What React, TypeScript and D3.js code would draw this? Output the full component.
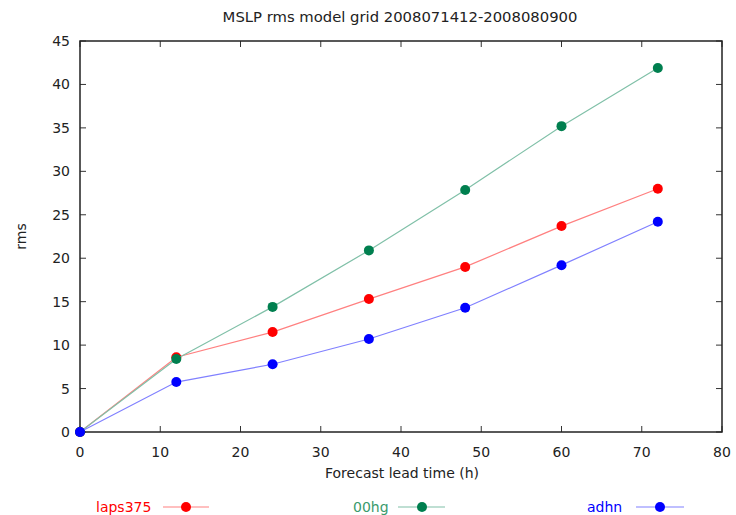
import React from "react";
import * as d3 from "d3";

const leadTimes = [0, 12, 24, 36, 48, 60, 72];
const laps375 = [0, 8.6, 11.5, 15.3, 19.0, 23.7, 28.0];
const hg00 = [0, 8.4, 14.4, 20.9, 27.85, 35.2, 41.9];
const adhn = [0, 5.75, 7.8, 10.7, 14.3, 19.2, 24.2];
const xTicks = [0, 10, 20, 30, 40, 50, 60, 70, 80];
const yTicks = [0, 5, 10, 15, 20, 25, 30, 35, 40, 45];

const seriesList = [
  { name: "laps375", values: laps375, marker: "#ff0000", line: "#ff8080", text: "#ff0000", lx: 96 },
  { name: "00hg", values: hg00, marker: "#007f4f", line: "#80c0a8", text: "#3a9a6c", lx: 353 },
  { name: "adhn", values: adhn, marker: "#0000ff", line: "#8080ff", text: "#0000ff", lx: 587 },
];

export default function App() {
  const W = 736, H = 515;
  const left = 80, right = 722, top = 41, bottom = 432;
  const x = d3.scaleLinear().domain([0, 80]).range([left, right]);
  const y = d3.scaleLinear().domain([0, 45]).range([bottom, top]);
  const font = "DejaVu Sans, sans-serif";
  const line = (vals: number[]) =>
    d3.line<number>().x((_, i) => x(leadTimes[i])).y((d) => y(d))(vals) || "";
  const tl = 6;
  const fs = 14;
  return (
    <svg width={W} height={H} style={{ position: "absolute", left: 0, top: 0, background: "#fff" }} fontFamily={font}>
      <rect x={0} y={0} width={W} height={H} fill="#fff" />
      <text x={400} y={22} textAnchor="middle" fontSize={14.8} fill="#222">MSLP rms model grid 2008071412-2008080900</text>
      {xTicks.map((t) => (
        <g key={"x" + t}>
          <line x1={x(t)} x2={x(t)} y1={bottom} y2={bottom - tl} stroke="#333" />
          <line x1={x(t)} x2={x(t)} y1={top} y2={top + tl} stroke="#333" />
          <text x={x(t)} y={457} textAnchor="middle" fontSize={fs} fill="#222">{t}</text>
        </g>
      ))}
      {yTicks.map((t) => (
        <g key={"y" + t}>
          <line x1={left} x2={left + tl} y1={y(t)} y2={y(t)} stroke="#333" />
          <line x1={right} x2={right - tl} y1={y(t)} y2={y(t)} stroke="#333" />
          <text x={70} y={y(t) + 5} textAnchor="end" fontSize={fs} fill="#222">{t}</text>
        </g>
      ))}
      <rect x={left} y={top} width={right - left} height={bottom - top} fill="none" stroke="#222" strokeWidth={1.5} />
      <text x={402} y={478} textAnchor="middle" fontSize={fs} fill="#222">Forecast lead time (h)</text>
      <text transform={`translate(26,${(top + bottom) / 2}) rotate(-90)`} textAnchor="middle" fontSize={fs} fill="#222">rms</text>
      {seriesList.map((s) => (
        <g key={s.name}>
          <path d={line(s.values)} fill="none" stroke={s.line} strokeWidth={1.2} />
          {s.values.map((v, i) => (
            <circle key={i} cx={x(leadTimes[i])} cy={y(v)} r={5} fill={s.marker} />
          ))}
        </g>
      ))}
      {seriesList.map((s) => (
        <g key={"leg" + s.name}>
          <text x={s.lx} y={512} fontSize={fs} fill={s.text}>{s.name}</text>
        </g>
      ))}
      <line x1={163} x2={209} y1={507} y2={507} stroke={seriesList[0].line} strokeWidth={1.2} />
      <circle cx={186} cy={507} r={5} fill={seriesList[0].marker} />
      <line x1={398} x2={445} y1={507} y2={507} stroke={seriesList[1].line} strokeWidth={1.2} />
      <circle cx={422} cy={507} r={5} fill={seriesList[1].marker} />
      <line x1={636} x2={684} y1={507} y2={507} stroke={seriesList[2].line} strokeWidth={1.2} />
      <circle cx={660} cy={507} r={5} fill={seriesList[2].marker} />
    </svg>
  );
}
